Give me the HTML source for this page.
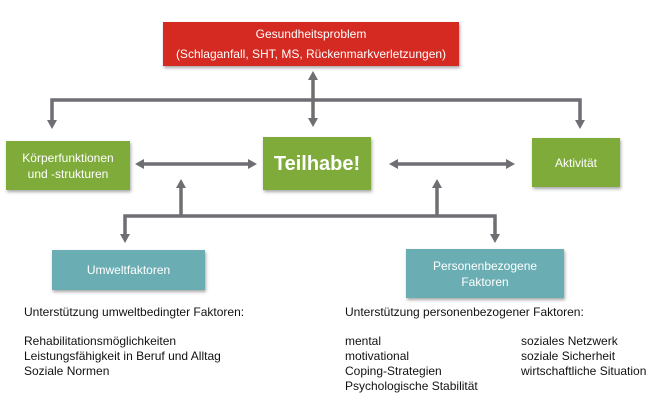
<!DOCTYPE html>
<html><head><meta charset="utf-8"><style>
body{margin:0;width:658px;height:405px;background:#fff;position:relative;font-family:"Liberation Sans",sans-serif;overflow:hidden}
.b{position:absolute;color:#fff;text-align:center;display:flex;align-items:center;justify-content:center;box-shadow:1px 2px 3px rgba(0,0,0,.35);font-size:12px;line-height:16px}
.t{position:absolute;font-size:12px;color:#111;line-height:15px;white-space:nowrap}
</style></head><body>
<svg width="658" height="405" style="position:absolute;left:0;top:0">
<g stroke="#6f6f73" stroke-width="3.5" fill="none">
<path d="M52,122 V100 H580 V122"/>
<path d="M313,78 V120"/>
<path d="M142,164 H250"/>
<path d="M396,164 H508"/>
<path d="M125,236 V216 H495 V236"/>
<path d="M181,216 V186"/>
<path d="M437,216 V186"/>
</g>
<g fill="#6f6f73">
<polygon points="47,120 57,120 52,129"/>
<polygon points="575,120 585,120 580,129"/>
<polygon points="308,80 318,80 313,71"/>
<polygon points="308,118 318,118 313,127"/>
<polygon points="144,159 144,169 135,164"/>
<polygon points="248,159 248,169 257,164"/>
<polygon points="398,159 398,169 389,164"/>
<polygon points="506,159 506,169 515,164"/>
<polygon points="120,234 130,234 125,243"/>
<polygon points="490,234 500,234 495,243"/>
<polygon points="176,188 186,188 181,179"/>
<polygon points="432,188 442,188 437,179"/>
</g></svg>
<div class="b" style="left:163px;top:22px;width:296px;height:44px;background:#d42a21;flex-direction:column">Gesundheitsproblem<br><span style="margin-top:4px">(Schlaganfall, SHT, MS, Rückenmarkverletzungen)</span></div>
<div class="b" style="left:6px;top:141px;width:124px;height:49px;background:#7fab3b">Körperfunktionen<br>und -strukturen</div>
<div class="b" style="left:263px;top:137px;width:108px;height:53px;background:#7fab3b;font-size:20px;font-weight:bold">Teilhabe!</div>
<div class="b" style="left:532px;top:138px;width:88px;height:49px;background:#7fab3b">Aktivität</div>
<div class="b" style="left:52px;top:250px;width:153px;height:40px;background:#6aaeb4">Umweltfaktoren</div>
<div class="b" style="left:406px;top:249px;width:158px;height:49px;background:#6aaeb4">Personenbezogene<br>Faktoren</div>
<div class="t" style="left:24px;top:305px">Unterstützung umweltbedingter Faktoren:</div>
<div class="t" style="left:24px;top:334px">Rehabilitationsmöglichkeiten<br>Leistungsfähigkeit in Beruf und Alltag<br>Soziale Normen</div>
<div class="t" style="left:345px;top:305px">Unterstützung personenbezogener Faktoren:</div>
<div class="t" style="left:345px;top:334px">mental<br>motivational<br>Coping-Strategien<br>Psychologische Stabilität</div>
<div class="t" style="left:521px;top:334px">soziales Netzwerk<br>soziale Sicherheit<br>wirtschaftliche Situation</div>
</body></html>
